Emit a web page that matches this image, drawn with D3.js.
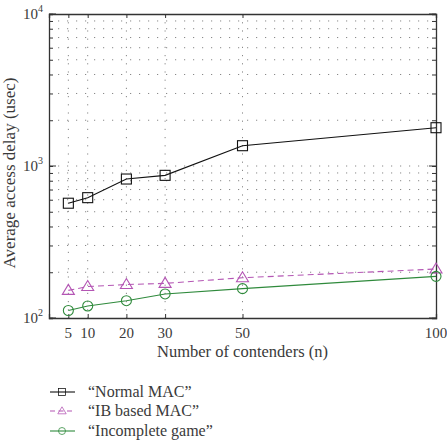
<!DOCTYPE html>
<html><head><meta charset="utf-8">
<script src="https://cdn.jsdelivr.net/npm/d3@7"></script>
<style>body{margin:0;background:#fff}svg{display:block}</style>
</head><body>
<svg id="c" width="447" height="442"></svg>
<script>
const xValues = [5, 10, 20, 30, 50, 100];
const normalMAC = [569, 619, 821, 868, 1360, 1786];
const ibMAC = [152, 161, 166, 169, 184, 210];
const incompleteGame = [112, 120, 130, 144, 156, 188];
const xTicks = [5, 10, 20, 30, 50, 100];
const yTickExps = [2, 3, 4];
const seriesNames = ["\u201cNormal MAC\u201d", "\u201cIB based MAC\u201d", "\u201cIncomplete game\u201d"];

const FONT = "'Liberation Serif', serif";
const TXT = "#3a3a3a";
const svg = d3.select("#c");
const L = 49, R = 436, T = 14, B = 318;
const x = d3.scaleLinear().domain([0, 100]).range([L, R]);
const y = d3.scaleLog().domain([100, 10000]).range([B, T]);

const minor = [];
for (let e = 2; e < 4; e++) for (let m = 1; m <= 9; m++) minor.push(m * Math.pow(10, e));
minor.push(10000);

const g = svg.append("g");
g.selectAll(".hg").data(minor.filter(v => v > 100 && v < 10000)).join("line")
  .attr("x1", L).attr("x2", R).attr("y1", d => y(d)).attr("y2", d => y(d))
  .attr("stroke", "#888").attr("stroke-width", 1).attr("stroke-dasharray", "1.2,7.8");
g.selectAll(".vg").data(xTicks.filter(v => v < 100)).join("line")
  .attr("x1", d => x(d)).attr("x2", d => x(d)).attr("y1", T).attr("y2", B)
  .attr("stroke", "#888").attr("stroke-width", 1).attr("stroke-dasharray", "1.2,7");

const yAxisL = d3.axisLeft(y).tickValues(minor).tickSize(-4).tickFormat("");
const yAxisR = d3.axisRight(y).tickValues(minor).tickSize(-4).tickFormat("");
const xAxisB = d3.axisBottom(x).tickValues(xTicks).tickSize(-4).tickFormat("");
const xAxisT = d3.axisTop(x).tickValues(xTicks).tickSize(-4).tickFormat("");
[[yAxisL, `translate(${L},0)`], [yAxisR, `translate(${R},0)`], [xAxisB, `translate(0,${B})`], [xAxisT, `translate(0,${T})`]].forEach(([ax, tr]) => {
  const a = svg.append("g").attr("transform", tr).call(ax);
  a.select(".domain").attr("stroke", "#333").attr("stroke-width", 1.3);
  a.selectAll(".tick line").attr("stroke", "#333");
});
svg.selectAll(".majl").data(yTickExps).join("line")
  .attr("x1", L).attr("x2", L + 7).attr("y1", d => y(Math.pow(10, d))).attr("y2", d => y(Math.pow(10, d))).attr("stroke", "#333");
svg.selectAll(".majr").data(yTickExps).join("line")
  .attr("x1", R).attr("x2", R - 7).attr("y1", d => y(Math.pow(10, d))).attr("y2", d => y(Math.pow(10, d))).attr("stroke", "#333");

function txt(sel) { return sel.append("text").style("font-family", FONT).attr("fill", TXT); }

svg.selectAll(".xl").data(xTicks).join("text").style("font-family", FONT).attr("fill", TXT)
  .attr("x", d => x(d)).attr("y", 338).attr("text-anchor", "middle").attr("font-size", 15).text(d => d);
yTickExps.forEach(e => {
  const t = txt(svg).attr("x", 43).attr("y", y(Math.pow(10, e)) + 5).attr("text-anchor", "end").attr("font-size", 15);
  t.append("tspan").text("10");
  t.append("tspan").attr("font-size", 10).attr("dy", -7).text(e);
});
txt(svg).attr("x", (L + R) / 2).attr("y", 357).attr("text-anchor", "middle").attr("font-size", 16.5).text("Number of contenders (n)");
txt(svg).attr("transform", `translate(15,173) rotate(-90)`).attr("text-anchor", "middle").attr("font-size", 17).text("Average access delay (usec)");

const series = [
  {vals: normalMAC, color: "#111", dash: null, shape: "sq"},
  {vals: ibMAC, color: "#b456b4", dash: "6,4", shape: "tri"},
  {vals: incompleteGame, color: "#2f8a3c", dash: null, shape: "circ"}
];
const line = d3.line().x(d => x(d[0])).y(d => y(d[1]));
function marker(sel, shape, color, cx, cy) {
  if (shape === "sq") sel.append("rect").attr("x", cx - 5).attr("y", cy - 5).attr("width", 10).attr("height", 10).attr("fill", "none").attr("stroke", color).attr("stroke-width", 1.1);
  else if (shape === "tri") sel.append("path").attr("d", `M${cx},${cy - 6}L${cx + 6},${cy + 4}L${cx - 6},${cy + 4}Z`).attr("fill", "none").attr("stroke", color).attr("stroke-width", 1.1);
  else sel.append("circle").attr("cx", cx).attr("cy", cy).attr("r", 5).attr("fill", "none").attr("stroke", color).attr("stroke-width", 1.1);
}
series.forEach(s => {
  const pts = xValues.map((v, i) => [v, s.vals[i]]);
  svg.append("path").attr("d", line(pts)).attr("fill", "none").attr("stroke", s.color).attr("stroke-width", 1.1).attr("stroke-dasharray", s.dash);
  const mg = svg.append("g");
  pts.forEach(p => marker(mg, s.shape, s.color, x(p[0]), y(p[1])));
});

const legY = [392, 411, 431];
series.forEach((s, i) => {
  svg.append("line").attr("x1", 50).attr("x2", 75).attr("y1", legY[i]).attr("y2", legY[i]).attr("stroke", s.color).attr("stroke-width", 1.1).attr("stroke-dasharray", s.dash ? "5,3.5" : null);
  const mg = svg.append("g").attr("transform", `translate(62,${legY[i]}) scale(0.7) translate(-62,${-legY[i]})`);
  marker(mg, s.shape, s.color, 62, legY[i]);
  txt(svg).attr("x", 88).attr("y", legY[i] + 5).attr("font-size", 16).text(seriesNames[i]);
});
</script>
</body></html>
